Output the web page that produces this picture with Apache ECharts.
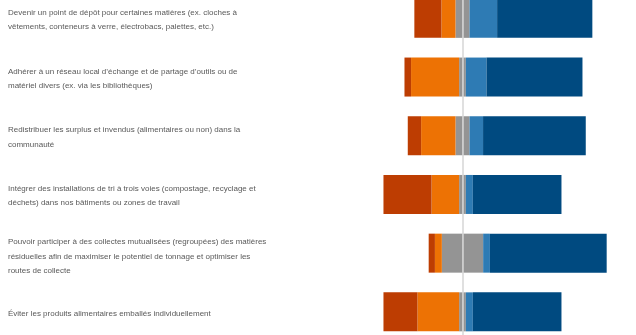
<!DOCTYPE html>
<html>
<head>
<meta charset="utf-8">
<script src="https://cdn.jsdelivr.net/npm/echarts@6/dist/echarts.min.js"></script>
<style>
html,body{margin:0;padding:0;background:#fff;}
#chart{width:636px;height:335px;}
</style>
</head>
<body>
<div id="chart"></div>
<script>
const categories = [
  "Devenir un point de dépôt pour certaines matières (ex. cloches à\nvêtements, conteneurs à verre, électrobacs, palettes, etc.)",
  "Adhérer à un réseau local d’échange et de partage d’outils ou de\nmatériel divers (ex. via les bibliothèques)",
  "Redistribuer les surplus et invendus (alimentaires ou non) dans la\ncommunauté",
  "Intégrer des installations de tri à trois voies (compostage, recyclage et\ndéchets) dans nos bâtiments ou zones de travail",
  "Pouvoir participer à des collectes mutualisées (regroupées) des matières\nrésiduelles afin de maximiser le potentiel de tonnage et optimiser les\nroutes de collecte",
  "Éviter les produits alimentaires emballés individuellement"
];
const veryNegative = [15.2, 3.7, 7.5, 27.0, 3.5, 19.1];
const negative     = [7.9, 27.0, 19.3, 15.5, 3.9, 23.4];
const neutral      = [7.9, 3.8, 7.9, 3.8, 23.2, 3.8];
const positive     = [15.5, 11.6, 7.6, 3.9, 3.8, 3.9];
const veryPositive = [53.5, 53.9, 57.7, 49.8, 65.6, 49.8];

const colors = {
  veryNegative: '#BD3D02',
  negative: '#ED7204',
  neutral: '#949494',
  positive: '#2E7BB4',
  veryPositive: '#004A80'
};

const chart = echarts.init(document.getElementById('chart'), null, {renderer: 'canvas'});
const gridLeft = 373.5;
const labelFont = "'Liberation Sans', Arial, sans-serif";
const baseText = {
  color: '#595959',
  fontSize: 8,
  lineHeight: 14.4,
  fontFamily: labelFont,
  align: 'left'
};

function bar(name, data, color, extra) {
  return Object.assign({
    name: name,
    type: 'bar',
    stack: 'total',
    barWidth: 39,
    data: data,
    itemStyle: {color: color},
    emphasis: {disabled: true},
    animation: false
  }, extra || {});
}

chart.setOption({
  animation: false,
  grid: {left: gridLeft, width: 249.2, top: -11, height: 352.2, outerBoundsMode: 'none', containLabel: false},
  xAxis: {type: 'value', min: -50, max: 90, show: false},
  yAxis: {
    type: 'category',
    inverse: true,
    data: categories,
    axisLine: {show: false},
    axisTick: {show: false},
    splitLine: {show: false},
    axisLabel: Object.assign({
      margin: gridLeft - 8,
      formatter: function (value) {
        const lines = value.split('\n');
        const spacer = lines.length >= 3 ? '{s3| }' : '{s| }';
        return spacer + '\n' + lines.map(l => '{n|' + l + '}').join('\n');
      },
      rich: {
        s: {fontSize: 1, lineHeight: 3, align: 'left'},
        s3: {fontSize: 1, lineHeight: 7, align: 'left'},
        n: Object.assign({}, baseText)
      }
    }, baseText)
  },
  series: [
    bar('Neutre-', neutral.map(v => -v / 2), colors.neutral),
    bar('Négatif', negative.map(v => -v), colors.negative),
    bar('Très négatif', veryNegative.map(v => -v), colors.veryNegative),
    bar('Neutre+', neutral.map(v => v / 2), colors.neutral, {
      markLine: {
        silent: true,
        symbol: 'none',
        label: {show: false},
        lineStyle: {color: '#d6d6d6', width: 1.5, type: 'solid'},
        data: [{xAxis: 0}],
        z: 10
      }
    }),
    bar('Positif', positive, colors.positive),
    bar('Très positif', veryPositive, colors.veryPositive)
  ]
});
</script>
</body>
</html>
